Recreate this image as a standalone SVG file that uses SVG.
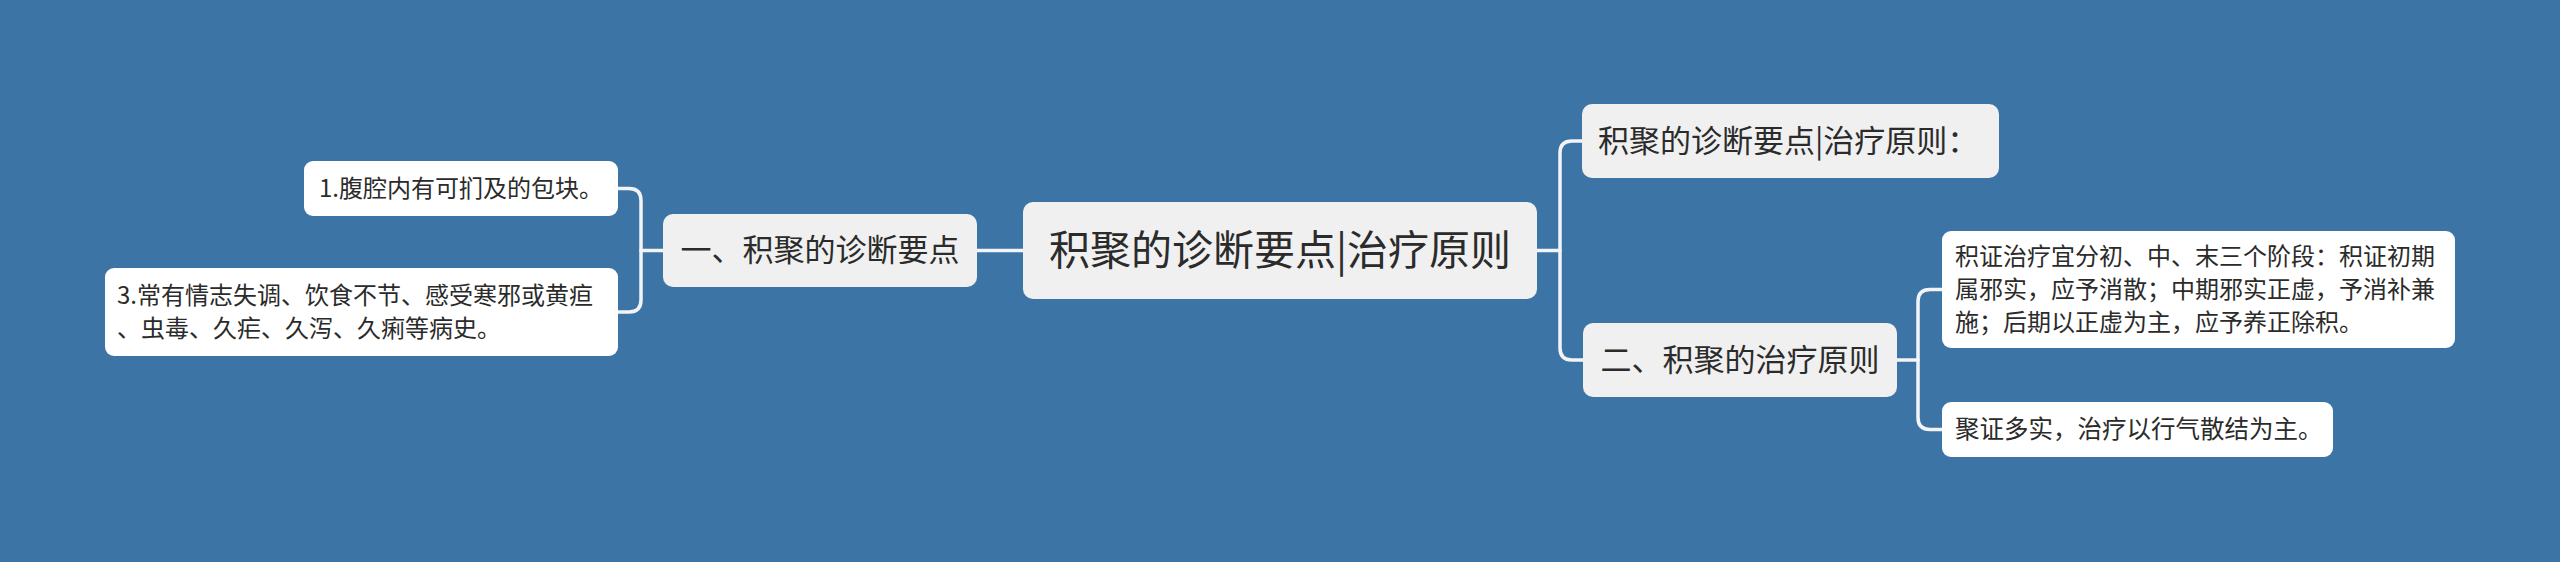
<svg xmlns="http://www.w3.org/2000/svg" width="2560" height="562" viewBox="0 0 2560 562">
<style>
.bg{fill:#3d74a6}
.lnk{fill:none;stroke:#f2f4f7;stroke-width:3.5;stroke-linecap:round}
.n0,.n1{fill:#f0f0f0}
.n2{fill:#ffffff}
text{font-family:"Noto Sans CJK SC","Microsoft YaHei",sans-serif;fill:#2b2b2b}
.t0{font-size:41px}
.t1{font-size:31px}
.t2{font-size:24px}
.t3{font-size:24px}
.m{text-anchor:middle}
</style>
<rect class="bg" x="0" y="0" width="2560" height="562"/>
<g id="connectors">
<path class="lnk" d="M1023,250.5 H977"/>
<path class="lnk" d="M663,250.5 H641"/>
<path class="lnk" d="M618,188.5 H629 Q641,188.5 641,200.5 V300 Q641,312 629,312 H618"/>
<path class="lnk" d="M1537,250.5 H1560"/>
<path class="lnk" d="M1582,141 H1572 Q1560,141 1560,153 V348 Q1560,360 1572,360 H1583"/>
<path class="lnk" d="M1897,360 H1918"/>
<path class="lnk" d="M1942,289.5 H1930 Q1918,289.5 1918,301.5 V417.5 Q1918,429.5 1930,429.5 H1942"/>
</g>
<g id="root">
<rect class="n0" x="1023" y="202" width="514" height="97" rx="10"/>
<text class="t0 m" x="1280" y="265">积聚的诊断要点|治疗原则</text>
</g>
<g id="node-diag">
<rect class="n1" x="663" y="214" width="314" height="73" rx="10"/>
<text class="t1 m" x="820" y="261">一、积聚的诊断要点</text>
</g>
<g id="node-diag-1">
<rect class="n2" x="304" y="161" width="314" height="55" rx="9"/>
<text class="t2 m" x="461" y="197">1.腹腔内有可扪及的包块。</text>
</g>
<g id="node-diag-3">
<rect class="n2" x="105" y="268" width="513" height="88" rx="9"/>
<text class="t3" x="117" y="304">3.常有情志失调、饮食不节、感受寒邪或黄疸</text>
<text class="t3" x="117" y="337">、虫毒、久疟、久泻、久痢等病史。</text>
</g>
<g id="node-title">
<rect class="n1" x="1582" y="104" width="417" height="74" rx="10"/>
<text class="t1" x="1598" y="152">积聚的诊断要点|治疗原则：</text>
</g>
<g id="node-treat">
<rect class="n1" x="1583" y="323" width="314" height="74" rx="10"/>
<text class="t1 m" x="1740" y="371">二、积聚的治疗原则</text>
</g>
<g id="node-treat-1">
<rect class="n2" x="1942" y="231" width="513" height="117" rx="9"/>
<text class="t2" x="1955" y="265">积证治疗宜分初、中、末三个阶段：积证初期</text>
<text class="t2" x="1955" y="298">属邪实，应予消散；中期邪实正虚，予消补兼</text>
<text class="t2" x="1955" y="331">施；后期以正虚为主，应予养正除积。</text>
</g>
<g id="node-treat-2">
<rect class="n2" x="1942" y="402" width="391" height="55" rx="9"/>
<text class="t2" x="1955" y="438" style="font-size:24.5px">聚证多实，治疗以行气散结为主。</text>
</g>
</svg>
